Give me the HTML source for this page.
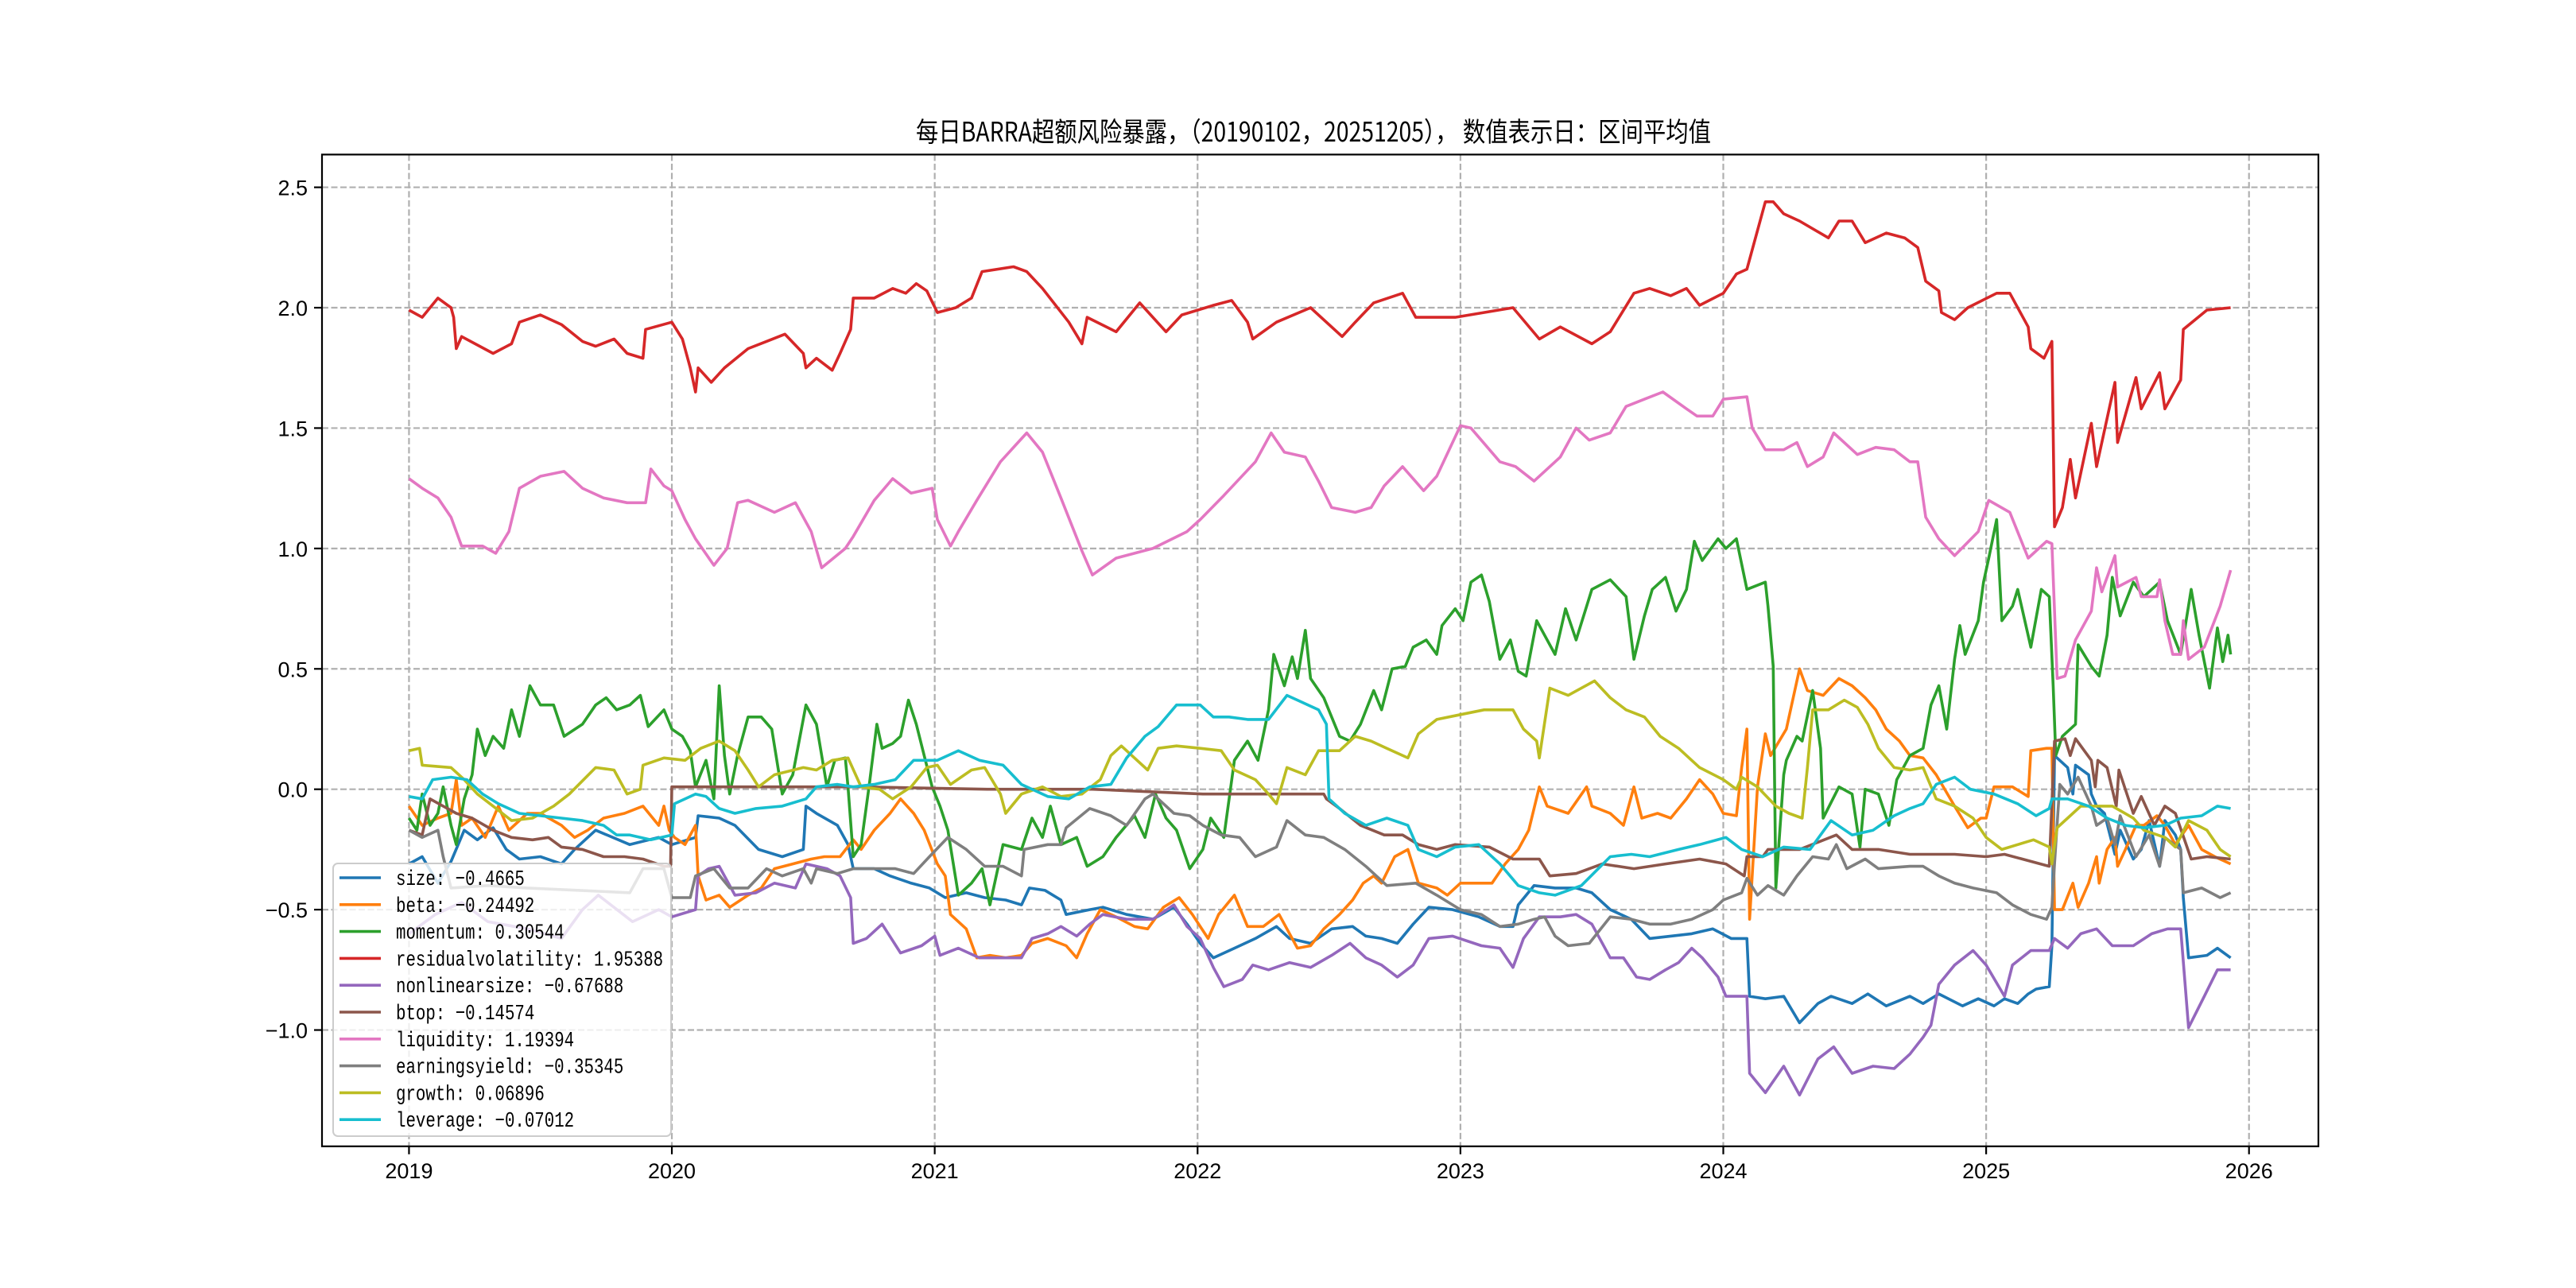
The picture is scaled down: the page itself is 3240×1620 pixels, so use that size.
<!DOCTYPE html>
<html><head><meta charset="utf-8">
<style>
html,body{margin:0;padding:0;background:#fff;}
svg{display:block;}
text{font-family:"Liberation Sans","Noto Sans CJK SC",sans-serif;fill:#000;}
</style></head>
<body>
<svg id="chart" width="3240" height="1620" viewBox="0 0 3240 1620" xmlns="http://www.w3.org/2000/svg">
<rect x="0" y="0" width="3240" height="1620" fill="#fff"/>
<text x="1152" y="178" font-size="34" textLength="1000" lengthAdjust="spacingAndGlyphs" style="font-family:'Noto Sans CJK SC','Liberation Sans',sans-serif">每日BARRA超额风险暴露，（20190102，20251205），  数值表示日：区间平均值</text>
<defs><clipPath id="plotclip"><rect x="405" y="194.4" width="2511" height="1247.4"/></clipPath></defs>
<g id="grid"></g>
<g id="series" clip-path="url(#plotclip)"></g>
<rect x="405" y="194.4" width="2511" height="1247.4" fill="none" stroke="#000" stroke-width="2.2"/>
<g id="ticks"></g>
<g id="legend"></g>
</svg>
<script>
const xTicks = [2019,2020,2021,2022,2023,2024,2025,2026];
const yTicks = [-1.0,-0.5,0.0,0.5,1.0,1.5,2.0,2.5];
const seriesNames = ["size","beta","momentum","residualvolatility","nonlinearsize","btop","liquidity","earningsyield","growth","leverage"];
const seriesMeans = ["-0.4665","-0.24492","0.30544","1.95388","-0.67688","-0.14574","1.19394","-0.35345","0.06896","-0.07012"];
const seriesColors = ["#1f77b4","#ff7f0e","#2ca02c","#d62728","#9467bd","#8c564b","#e377c2","#7f7f7f","#bcbd22","#17becf"];

const sizeData = [[2019.00,-0.31],[2019.05,-0.28],[2019.11,-0.39],[2019.16,-0.30],[2019.21,-0.17],[2019.26,-0.21],[2019.32,-0.16],[2019.37,-0.25],[2019.42,-0.29],[2019.50,-0.28],[2019.58,-0.31],[2019.63,-0.25],[2019.71,-0.17],[2019.84,-0.23],[2019.95,-0.20],[2020.00,-0.23],[2020.09,-0.20],[2020.10,-0.11],[2020.18,-0.12],[2020.24,-0.15],[2020.33,-0.25],[2020.42,-0.28],[2020.50,-0.25],[2020.51,-0.07],[2020.55,-0.10],[2020.63,-0.15],[2020.67,-0.23],[2020.69,-0.33],[2020.77,-0.33],[2020.83,-0.36],[2020.91,-0.39],[2020.98,-0.41],[2021.04,-0.45],[2021.12,-0.43],[2021.19,-0.45],[2021.27,-0.46],[2021.33,-0.48],[2021.36,-0.41],[2021.42,-0.42],[2021.48,-0.46],[2021.50,-0.52],[2021.59,-0.50],[2021.64,-0.49],[2021.73,-0.52],[2021.83,-0.54],[2021.91,-0.49],[2021.96,-0.56],[2022.01,-0.64],[2022.06,-0.70],[2022.14,-0.66],[2022.22,-0.62],[2022.30,-0.57],[2022.35,-0.62],[2022.43,-0.64],[2022.51,-0.58],[2022.59,-0.57],[2022.64,-0.61],[2022.70,-0.62],[2022.76,-0.64],[2022.82,-0.56],[2022.88,-0.49],[2022.97,-0.50],[2023.07,-0.53],[2023.15,-0.57],[2023.20,-0.57],[2023.22,-0.48],[2023.28,-0.40],[2023.36,-0.41],[2023.44,-0.41],[2023.50,-0.43],[2023.57,-0.50],[2023.65,-0.54],[2023.72,-0.62],[2023.80,-0.61],[2023.88,-0.60],[2023.96,-0.58],[2024.03,-0.62],[2024.09,-0.62],[2024.10,-0.86],[2024.16,-0.87],[2024.23,-0.86],[2024.29,-0.97],[2024.36,-0.89],[2024.41,-0.86],[2024.49,-0.89],[2024.55,-0.85],[2024.62,-0.90],[2024.71,-0.86],[2024.76,-0.89],[2024.82,-0.85],[2024.91,-0.90],[2024.97,-0.87],[2025.03,-0.90],[2025.07,-0.87],[2025.12,-0.89],[2025.16,-0.85],[2025.19,-0.83],[2025.24,-0.82],[2025.25,-0.65],[2025.26,0.14],[2025.31,0.09],[2025.33,-0.02],[2025.34,0.10],[2025.39,0.06],[2025.40,-0.02],[2025.42,-0.07],[2025.45,-0.10],[2025.49,-0.27],[2025.51,-0.17],[2025.56,-0.29],[2025.59,-0.25],[2025.62,-0.13],[2025.66,-0.32],[2025.68,-0.13],[2025.72,-0.19],[2025.74,-0.25],[2025.75,-0.45],[2025.77,-0.70],[2025.84,-0.69],[2025.88,-0.66],[2025.93,-0.70]];

const betaData = [[2019.00,-0.07],[2019.05,-0.15],[2019.11,-0.12],[2019.16,-0.10],[2019.18,0.04],[2019.20,-0.15],[2019.24,-0.12],[2019.29,-0.20],[2019.34,-0.07],[2019.38,-0.17],[2019.45,-0.10],[2019.50,-0.10],[2019.58,-0.15],[2019.63,-0.20],[2019.68,-0.17],[2019.74,-0.12],[2019.82,-0.10],[2019.89,-0.07],[2019.95,-0.15],[2019.97,-0.07],[2019.99,-0.17],[2020.01,-0.20],[2020.05,-0.23],[2020.09,-0.15],[2020.10,-0.36],[2020.13,-0.46],[2020.18,-0.44],[2020.22,-0.49],[2020.29,-0.44],[2020.34,-0.41],[2020.39,-0.33],[2020.46,-0.31],[2020.53,-0.29],[2020.58,-0.28],[2020.64,-0.28],[2020.69,-0.21],[2020.72,-0.25],[2020.77,-0.17],[2020.83,-0.10],[2020.87,-0.04],[2020.92,-0.10],[2020.96,-0.17],[2021.01,-0.31],[2021.04,-0.36],[2021.06,-0.52],[2021.12,-0.58],[2021.16,-0.70],[2021.21,-0.69],[2021.27,-0.70],[2021.33,-0.69],[2021.37,-0.64],[2021.43,-0.62],[2021.50,-0.65],[2021.54,-0.70],[2021.58,-0.60],[2021.63,-0.50],[2021.69,-0.53],[2021.76,-0.57],[2021.81,-0.58],[2021.87,-0.49],[2021.93,-0.45],[2021.98,-0.52],[2022.04,-0.62],[2022.08,-0.52],[2022.14,-0.44],[2022.19,-0.57],[2022.25,-0.57],[2022.31,-0.52],[2022.38,-0.66],[2022.43,-0.65],[2022.48,-0.58],[2022.54,-0.52],[2022.59,-0.46],[2022.63,-0.39],[2022.67,-0.36],[2022.70,-0.39],[2022.75,-0.28],[2022.80,-0.25],[2022.84,-0.39],[2022.91,-0.41],[2022.95,-0.44],[2023.00,-0.39],[2023.07,-0.39],[2023.12,-0.39],[2023.17,-0.31],[2023.22,-0.25],[2023.26,-0.17],[2023.30,0.01],[2023.33,-0.07],[2023.41,-0.10],[2023.48,0.01],[2023.50,-0.07],[2023.57,-0.10],[2023.62,-0.15],[2023.66,0.01],[2023.69,-0.12],[2023.75,-0.10],[2023.80,-0.12],[2023.86,-0.04],[2023.91,0.04],[2023.96,-0.02],[2024.00,-0.10],[2024.05,-0.11],[2024.07,0.09],[2024.09,0.25],[2024.10,-0.54],[2024.13,0.01],[2024.16,0.23],[2024.18,0.14],[2024.24,0.25],[2024.29,0.50],[2024.32,0.41],[2024.38,0.39],[2024.44,0.46],[2024.49,0.43],[2024.54,0.38],[2024.58,0.33],[2024.62,0.25],[2024.67,0.20],[2024.71,0.14],[2024.76,0.13],[2024.81,0.06],[2024.88,-0.07],[2024.93,-0.16],[2024.98,-0.12],[2025.00,-0.12],[2025.03,0.01],[2025.10,0.01],[2025.16,-0.03],[2025.17,0.16],[2025.23,0.17],[2025.25,0.17],[2025.26,-0.50],[2025.29,-0.50],[2025.33,-0.39],[2025.35,-0.49],[2025.39,-0.39],[2025.42,-0.28],[2025.43,-0.39],[2025.46,-0.25],[2025.49,-0.20],[2025.50,-0.32],[2025.53,-0.25],[2025.57,-0.15],[2025.60,-0.15],[2025.65,-0.11],[2025.68,-0.15],[2025.72,-0.23],[2025.77,-0.15],[2025.82,-0.25],[2025.87,-0.28],[2025.93,-0.31]];

const momentumData = [[2019.00,-0.12],[2019.03,-0.17],[2019.05,-0.02],[2019.08,-0.15],[2019.11,-0.10],[2019.13,0.01],[2019.16,-0.15],[2019.18,-0.23],[2019.21,-0.04],[2019.24,0.06],[2019.26,0.25],[2019.29,0.14],[2019.32,0.22],[2019.36,0.17],[2019.39,0.33],[2019.42,0.22],[2019.46,0.43],[2019.50,0.35],[2019.55,0.35],[2019.59,0.22],[2019.66,0.27],[2019.71,0.35],[2019.75,0.38],[2019.79,0.33],[2019.84,0.35],[2019.88,0.39],[2019.91,0.26],[2019.97,0.33],[2020.00,0.25],[2020.04,0.22],[2020.07,0.16],[2020.09,0.01],[2020.13,0.12],[2020.16,-0.04],[2020.18,0.43],[2020.20,0.14],[2020.22,-0.02],[2020.25,0.14],[2020.29,0.30],[2020.34,0.30],[2020.38,0.25],[2020.42,-0.02],[2020.46,0.06],[2020.51,0.35],[2020.55,0.27],[2020.59,0.01],[2020.62,0.12],[2020.66,0.13],[2020.67,0.01],[2020.69,-0.28],[2020.72,-0.23],[2020.75,0.01],[2020.78,0.27],[2020.80,0.17],[2020.84,0.19],[2020.87,0.22],[2020.90,0.37],[2020.93,0.27],[2020.96,0.14],[2020.99,0.01],[2021.02,-0.07],[2021.05,-0.17],[2021.09,-0.44],[2021.14,-0.39],[2021.18,-0.33],[2021.21,-0.48],[2021.26,-0.23],[2021.33,-0.25],[2021.37,-0.12],[2021.41,-0.20],[2021.44,-0.07],[2021.48,-0.23],[2021.54,-0.20],[2021.58,-0.32],[2021.64,-0.28],[2021.69,-0.20],[2021.76,-0.11],[2021.80,-0.20],[2021.84,-0.02],[2021.88,-0.12],[2021.92,-0.17],[2021.97,-0.33],[2022.02,-0.25],[2022.05,-0.12],[2022.10,-0.20],[2022.14,0.12],[2022.19,0.20],[2022.23,0.12],[2022.27,0.33],[2022.29,0.56],[2022.33,0.43],[2022.36,0.55],[2022.38,0.46],[2022.41,0.66],[2022.43,0.46],[2022.48,0.38],[2022.54,0.22],[2022.58,0.20],[2022.62,0.27],[2022.67,0.41],[2022.70,0.33],[2022.74,0.50],[2022.79,0.51],[2022.82,0.59],[2022.87,0.62],[2022.91,0.56],[2022.93,0.68],[2022.98,0.75],[2023.01,0.70],[2023.04,0.86],[2023.08,0.89],[2023.11,0.78],[2023.15,0.54],[2023.19,0.62],[2023.22,0.49],[2023.25,0.47],[2023.29,0.70],[2023.36,0.56],[2023.40,0.75],[2023.44,0.62],[2023.50,0.83],[2023.57,0.87],[2023.63,0.80],[2023.66,0.54],[2023.70,0.72],[2023.73,0.83],[2023.78,0.88],[2023.82,0.74],[2023.86,0.83],[2023.89,1.03],[2023.92,0.95],[2023.98,1.04],[2024.01,1.00],[2024.05,1.04],[2024.09,0.83],[2024.16,0.86],[2024.17,0.76],[2024.19,0.51],[2024.20,-0.41],[2024.23,0.06],[2024.24,0.12],[2024.28,0.22],[2024.30,0.20],[2024.34,0.41],[2024.37,0.17],[2024.38,-0.12],[2024.44,0.01],[2024.49,-0.02],[2024.52,-0.24],[2024.54,0.00],[2024.59,-0.02],[2024.63,-0.15],[2024.66,0.04],[2024.71,0.14],[2024.76,0.17],[2024.79,0.35],[2024.82,0.43],[2024.85,0.25],[2024.88,0.54],[2024.90,0.68],[2024.92,0.56],[2024.97,0.70],[2024.99,0.86],[2025.01,0.96],[2025.04,1.12],[2025.06,0.70],[2025.10,0.76],[2025.12,0.83],[2025.17,0.59],[2025.21,0.83],[2025.24,0.80],[2025.255,0.43],[2025.265,0.14],[2025.29,0.22],[2025.34,0.27],[2025.35,0.60],[2025.40,0.51],[2025.43,0.47],[2025.46,0.64],[2025.48,0.88],[2025.51,0.72],[2025.56,0.86],[2025.60,0.80],[2025.66,0.86],[2025.69,0.70],[2025.74,0.56],[2025.78,0.83],[2025.81,0.64],[2025.85,0.42],[2025.88,0.67],[2025.90,0.53],[2025.92,0.64],[2025.93,0.56]];

const residVolData = [[2019.00,1.99],[2019.05,1.96],[2019.11,2.04],[2019.16,2.00],[2019.17,1.96],[2019.18,1.83],[2019.20,1.88],[2019.32,1.81],[2019.39,1.85],[2019.42,1.94],[2019.50,1.97],[2019.58,1.93],[2019.66,1.86],[2019.71,1.84],[2019.78,1.87],[2019.83,1.81],[2019.89,1.79],[2019.90,1.91],[2020.00,1.94],[2020.04,1.87],[2020.07,1.75],[2020.09,1.65],[2020.10,1.75],[2020.15,1.69],[2020.20,1.75],[2020.29,1.83],[2020.36,1.86],[2020.43,1.89],[2020.50,1.81],[2020.51,1.75],[2020.55,1.79],[2020.61,1.74],[2020.64,1.81],[2020.68,1.91],[2020.69,2.04],[2020.77,2.04],[2020.84,2.08],[2020.89,2.06],[2020.93,2.10],[2020.97,2.07],[2021.01,1.98],[2021.08,2.00],[2021.14,2.04],[2021.18,2.15],[2021.30,2.17],[2021.35,2.15],[2021.41,2.08],[2021.51,1.94],[2021.56,1.85],[2021.58,1.96],[2021.69,1.90],[2021.78,2.02],[2021.88,1.90],[2021.94,1.97],[2022.06,2.01],[2022.13,2.03],[2022.19,1.94],[2022.21,1.87],[2022.30,1.94],[2022.43,2.00],[2022.55,1.88],[2022.60,1.94],[2022.67,2.02],[2022.78,2.06],[2022.83,1.96],[2022.98,1.96],[2023.20,2.00],[2023.30,1.87],[2023.38,1.92],[2023.50,1.85],[2023.57,1.90],[2023.66,2.06],[2023.72,2.08],[2023.80,2.05],[2023.86,2.08],[2023.91,2.01],[2024.00,2.06],[2024.05,2.14],[2024.09,2.16],[2024.16,2.44],[2024.19,2.44],[2024.23,2.39],[2024.29,2.36],[2024.40,2.29],[2024.44,2.36],[2024.49,2.36],[2024.54,2.27],[2024.62,2.31],[2024.69,2.29],[2024.74,2.25],[2024.77,2.11],[2024.82,2.07],[2024.83,1.98],[2024.88,1.95],[2024.93,2.00],[2025.04,2.06],[2025.09,2.06],[2025.12,2.00],[2025.16,1.92],[2025.17,1.83],[2025.22,1.79],[2025.25,1.86],[2025.26,1.09],[2025.29,1.17],[2025.32,1.37],[2025.34,1.21],[2025.40,1.52],[2025.42,1.34],[2025.49,1.69],[2025.50,1.44],[2025.57,1.71],[2025.59,1.58],[2025.66,1.73],[2025.68,1.58],[2025.74,1.70],[2025.75,1.91],[2025.84,1.99],[2025.93,2.00]];

const nonlinData = [[2019.00,-0.60],[2019.10,-0.52],[2019.20,-0.47],[2019.30,-0.55],[2019.45,-0.58],[2019.58,-0.62],[2019.66,-0.50],[2019.72,-0.44],[2019.85,-0.55],[2019.95,-0.50],[2020.00,-0.53],[2020.09,-0.50],[2020.10,-0.36],[2020.14,-0.33],[2020.18,-0.32],[2020.24,-0.44],[2020.32,-0.43],[2020.39,-0.39],[2020.47,-0.41],[2020.51,-0.31],[2020.59,-0.33],[2020.64,-0.36],[2020.68,-0.45],[2020.69,-0.64],[2020.74,-0.62],[2020.80,-0.56],[2020.87,-0.68],[2020.95,-0.65],[2021.00,-0.61],[2021.02,-0.69],[2021.09,-0.66],[2021.17,-0.70],[2021.25,-0.70],[2021.33,-0.70],[2021.37,-0.62],[2021.43,-0.60],[2021.48,-0.57],[2021.54,-0.61],[2021.59,-0.56],[2021.64,-0.52],[2021.73,-0.54],[2021.83,-0.54],[2021.91,-0.48],[2021.96,-0.57],[2022.01,-0.62],[2022.06,-0.74],[2022.10,-0.82],[2022.17,-0.79],[2022.21,-0.73],[2022.27,-0.75],[2022.35,-0.72],[2022.43,-0.74],[2022.51,-0.69],[2022.58,-0.64],[2022.64,-0.70],[2022.70,-0.73],[2022.76,-0.78],[2022.82,-0.73],[2022.88,-0.62],[2022.97,-0.61],[2023.08,-0.65],[2023.15,-0.66],[2023.20,-0.74],[2023.24,-0.62],[2023.30,-0.53],[2023.38,-0.53],[2023.44,-0.52],[2023.50,-0.56],[2023.57,-0.70],[2023.62,-0.70],[2023.67,-0.78],[2023.72,-0.79],[2023.78,-0.75],[2023.83,-0.72],[2023.88,-0.66],[2023.92,-0.70],[2023.98,-0.78],[2024.01,-0.86],[2024.09,-0.86],[2024.10,-1.18],[2024.16,-1.26],[2024.23,-1.15],[2024.29,-1.27],[2024.36,-1.12],[2024.42,-1.07],[2024.49,-1.18],[2024.57,-1.15],[2024.65,-1.16],[2024.71,-1.10],[2024.76,-1.03],[2024.79,-0.98],[2024.82,-0.81],[2024.88,-0.73],[2024.95,-0.67],[2025.00,-0.73],[2025.07,-0.86],[2025.10,-0.73],[2025.17,-0.67],[2025.24,-0.67],[2025.26,-0.62],[2025.31,-0.66],[2025.36,-0.60],[2025.42,-0.58],[2025.48,-0.65],[2025.56,-0.65],[2025.63,-0.60],[2025.69,-0.58],[2025.74,-0.58],[2025.77,-0.99],[2025.83,-0.86],[2025.88,-0.75],[2025.93,-0.75]];

const btopData = [[2019.00,-0.17],[2019.05,-0.19],[2019.08,-0.04],[2019.13,-0.07],[2019.18,-0.10],[2019.24,-0.12],[2019.32,-0.17],[2019.39,-0.20],[2019.47,-0.21],[2019.53,-0.20],[2019.58,-0.24],[2019.66,-0.25],[2019.74,-0.28],[2019.82,-0.28],[2019.89,-0.29],[2019.97,-0.32],[2019.995,-0.32],[2020.00,0.01],[2020.11,0.01],[2020.72,0.01],[2021.20,0.00],[2021.60,0.00],[2022.02,-0.02],[2022.48,-0.02],[2022.49,-0.04],[2022.54,-0.08],[2022.62,-0.15],[2022.71,-0.19],[2022.78,-0.19],[2022.84,-0.23],[2022.91,-0.25],[2022.98,-0.23],[2023.11,-0.24],[2023.20,-0.29],[2023.30,-0.29],[2023.34,-0.36],[2023.44,-0.35],[2023.54,-0.31],[2023.66,-0.33],[2023.78,-0.31],[2023.91,-0.29],[2024.01,-0.31],[2024.08,-0.36],[2024.09,-0.28],[2024.15,-0.28],[2024.17,-0.25],[2024.29,-0.25],[2024.43,-0.19],[2024.49,-0.25],[2024.59,-0.25],[2024.71,-0.27],[2024.88,-0.27],[2025.00,-0.28],[2025.07,-0.27],[2025.24,-0.32],[2025.26,0.20],[2025.30,0.21],[2025.32,0.14],[2025.34,0.21],[2025.40,0.12],[2025.415,0.01],[2025.425,0.12],[2025.46,0.09],[2025.495,-0.07],[2025.505,0.08],[2025.56,-0.10],[2025.59,-0.03],[2025.64,-0.15],[2025.68,-0.07],[2025.72,-0.10],[2025.78,-0.29],[2025.84,-0.28],[2025.93,-0.29]];

const liquidityData = [[2019.00,1.29],[2019.05,1.25],[2019.11,1.21],[2019.16,1.13],[2019.20,1.01],[2019.28,1.01],[2019.33,0.98],[2019.38,1.07],[2019.42,1.25],[2019.50,1.30],[2019.59,1.32],[2019.66,1.25],[2019.74,1.21],[2019.83,1.19],[2019.90,1.19],[2019.92,1.33],[2019.97,1.26],[2020.00,1.24],[2020.05,1.12],[2020.09,1.04],[2020.16,0.93],[2020.21,1.00],[2020.25,1.19],[2020.29,1.20],[2020.39,1.15],[2020.47,1.19],[2020.53,1.07],[2020.57,0.92],[2020.66,1.00],[2020.69,1.05],[2020.77,1.20],[2020.84,1.29],[2020.91,1.23],[2020.99,1.25],[2021.01,1.12],[2021.06,1.01],[2021.09,1.07],[2021.16,1.20],[2021.25,1.36],[2021.35,1.48],[2021.41,1.40],[2021.48,1.21],[2021.56,0.99],[2021.60,0.89],[2021.69,0.96],[2021.83,1.00],[2021.96,1.07],[2022.01,1.12],[2022.10,1.22],[2022.22,1.36],[2022.28,1.48],[2022.33,1.40],[2022.41,1.38],[2022.46,1.28],[2022.51,1.17],[2022.60,1.15],[2022.66,1.17],[2022.71,1.26],[2022.78,1.34],[2022.86,1.24],[2022.91,1.30],[2023.00,1.51],[2023.04,1.50],[2023.15,1.36],[2023.21,1.34],[2023.28,1.28],[2023.38,1.38],[2023.44,1.50],[2023.49,1.45],[2023.57,1.48],[2023.63,1.59],[2023.70,1.62],[2023.77,1.65],[2023.86,1.58],[2023.90,1.55],[2023.96,1.55],[2024.00,1.62],[2024.09,1.63],[2024.11,1.50],[2024.16,1.41],[2024.23,1.41],[2024.28,1.44],[2024.32,1.34],[2024.38,1.38],[2024.42,1.48],[2024.51,1.39],[2024.58,1.42],[2024.65,1.41],[2024.71,1.36],[2024.74,1.36],[2024.77,1.13],[2024.82,1.04],[2024.88,0.97],[2024.97,1.07],[2025.01,1.20],[2025.09,1.15],[2025.16,0.96],[2025.23,1.03],[2025.25,1.02],[2025.27,0.46],[2025.30,0.47],[2025.34,0.62],[2025.40,0.74],[2025.42,0.92],[2025.44,0.82],[2025.49,0.97],[2025.50,0.84],[2025.57,0.88],[2025.59,0.80],[2025.65,0.80],[2025.66,0.87],[2025.68,0.70],[2025.71,0.56],[2025.74,0.56],[2025.75,0.70],[2025.77,0.54],[2025.83,0.59],[2025.89,0.76],[2025.93,0.91]];

const earningsData = [[2019.00,-0.17],[2019.05,-0.20],[2019.11,-0.17],[2019.13,-0.28],[2019.16,-0.41],[2019.30,-0.40],[2019.45,-0.41],[2019.65,-0.42],[2019.84,-0.43],[2019.89,-0.33],[2019.97,-0.33],[2020.00,-0.45],[2020.07,-0.45],[2020.09,-0.36],[2020.16,-0.33],[2020.22,-0.41],[2020.29,-0.41],[2020.36,-0.33],[2020.42,-0.36],[2020.50,-0.33],[2020.53,-0.39],[2020.55,-0.33],[2020.63,-0.35],[2020.69,-0.33],[2020.77,-0.33],[2020.85,-0.33],[2020.92,-0.35],[2020.98,-0.28],[2021.05,-0.20],[2021.12,-0.25],[2021.19,-0.32],[2021.26,-0.32],[2021.33,-0.36],[2021.34,-0.25],[2021.43,-0.23],[2021.48,-0.23],[2021.50,-0.16],[2021.59,-0.08],[2021.67,-0.11],[2021.73,-0.15],[2021.80,-0.04],[2021.83,-0.02],[2021.91,-0.10],[2021.97,-0.11],[2022.02,-0.15],[2022.09,-0.19],[2022.16,-0.20],[2022.22,-0.28],[2022.30,-0.24],[2022.34,-0.13],[2022.41,-0.19],[2022.48,-0.20],[2022.56,-0.25],[2022.64,-0.32],[2022.72,-0.40],[2022.83,-0.39],[2022.91,-0.44],[2023.00,-0.50],[2023.08,-0.52],[2023.15,-0.57],[2023.22,-0.56],[2023.28,-0.54],[2023.32,-0.53],[2023.36,-0.61],[2023.41,-0.65],[2023.49,-0.64],[2023.57,-0.53],[2023.65,-0.54],[2023.72,-0.56],[2023.80,-0.56],[2023.88,-0.54],[2023.96,-0.50],[2024.00,-0.46],[2024.07,-0.43],[2024.09,-0.37],[2024.13,-0.44],[2024.17,-0.40],[2024.23,-0.44],[2024.28,-0.36],[2024.34,-0.28],[2024.40,-0.29],[2024.43,-0.23],[2024.47,-0.33],[2024.54,-0.29],[2024.59,-0.33],[2024.71,-0.32],[2024.76,-0.32],[2024.82,-0.36],[2024.88,-0.39],[2024.95,-0.41],[2025.04,-0.43],[2025.10,-0.48],[2025.17,-0.52],[2025.23,-0.54],[2025.25,-0.49],[2025.26,-0.31],[2025.28,0.02],[2025.31,-0.02],[2025.35,0.05],[2025.40,-0.07],[2025.42,-0.15],[2025.46,-0.12],[2025.49,-0.23],[2025.51,-0.11],[2025.57,-0.28],[2025.62,-0.19],[2025.66,-0.32],[2025.68,-0.20],[2025.74,-0.25],[2025.75,-0.43],[2025.82,-0.41],[2025.89,-0.45],[2025.93,-0.43]];

const growthData = [[2019.00,0.16],[2019.04,0.17],[2019.05,0.10],[2019.16,0.09],[2019.21,0.04],[2019.26,-0.02],[2019.32,-0.07],[2019.39,-0.13],[2019.47,-0.12],[2019.55,-0.07],[2019.61,-0.02],[2019.71,0.09],[2019.78,0.08],[2019.83,-0.02],[2019.88,0.00],[2019.89,0.10],[2019.97,0.13],[2020.05,0.12],[2020.11,0.17],[2020.18,0.20],[2020.24,0.16],[2020.29,0.08],[2020.33,0.01],[2020.39,0.06],[2020.50,0.09],[2020.55,0.08],[2020.61,0.12],[2020.67,0.13],[2020.72,0.01],[2020.79,0.00],[2020.84,-0.04],[2020.91,0.01],[2020.97,0.09],[2021.01,0.10],[2021.06,0.02],[2021.14,0.08],[2021.19,0.09],[2021.25,-0.02],[2021.27,-0.10],[2021.33,-0.02],[2021.41,0.01],[2021.48,-0.03],[2021.56,-0.02],[2021.63,0.04],[2021.67,0.14],[2021.71,0.18],[2021.76,0.13],[2021.81,0.08],[2021.85,0.17],[2021.92,0.18],[2022.01,0.17],[2022.09,0.16],[2022.14,0.08],[2022.22,0.04],[2022.27,-0.02],[2022.30,-0.06],[2022.34,0.09],[2022.41,0.06],[2022.46,0.16],[2022.54,0.16],[2022.60,0.22],[2022.66,0.20],[2022.72,0.17],[2022.80,0.13],[2022.84,0.23],[2022.91,0.29],[2023.00,0.31],[2023.09,0.33],[2023.20,0.33],[2023.24,0.25],[2023.29,0.20],[2023.30,0.13],[2023.34,0.42],[2023.41,0.39],[2023.51,0.45],[2023.57,0.38],[2023.63,0.33],[2023.70,0.30],[2023.76,0.22],[2023.83,0.17],[2023.91,0.09],[2024.00,0.04],[2024.05,0.00],[2024.07,0.05],[2024.13,0.01],[2024.20,-0.07],[2024.25,-0.10],[2024.30,-0.12],[2024.32,0.09],[2024.34,0.33],[2024.40,0.33],[2024.46,0.37],[2024.51,0.34],[2024.55,0.27],[2024.59,0.17],[2024.65,0.09],[2024.71,0.08],[2024.76,0.09],[2024.81,-0.04],[2024.88,-0.07],[2024.95,-0.12],[2025.00,-0.20],[2025.06,-0.25],[2025.12,-0.23],[2025.18,-0.21],[2025.24,-0.24],[2025.25,-0.31],[2025.27,-0.16],[2025.31,-0.12],[2025.36,-0.07],[2025.44,-0.07],[2025.48,-0.07],[2025.56,-0.12],[2025.60,-0.17],[2025.68,-0.20],[2025.72,-0.24],[2025.77,-0.13],[2025.84,-0.17],[2025.89,-0.25],[2025.93,-0.28]];

const leverageData = [[2019.00,-0.03],[2019.05,-0.04],[2019.09,0.04],[2019.16,0.05],[2019.22,0.04],[2019.28,-0.02],[2019.34,-0.06],[2019.42,-0.10],[2019.50,-0.11],[2019.58,-0.12],[2019.66,-0.13],[2019.74,-0.15],[2019.79,-0.19],[2019.84,-0.19],[2019.92,-0.21],[2020.00,-0.19],[2020.01,-0.06],[2020.09,-0.02],[2020.13,-0.03],[2020.18,-0.08],[2020.24,-0.10],[2020.32,-0.08],[2020.42,-0.07],[2020.51,-0.04],[2020.55,0.01],[2020.63,0.02],[2020.69,0.01],[2020.77,0.02],[2020.85,0.04],[2020.92,0.12],[2021.01,0.12],[2021.09,0.16],[2021.17,0.12],[2021.26,0.10],[2021.33,0.02],[2021.43,-0.03],[2021.51,-0.04],[2021.59,0.01],[2021.67,0.02],[2021.73,0.13],[2021.80,0.22],[2021.85,0.26],[2021.92,0.35],[2022.01,0.35],[2022.06,0.30],[2022.12,0.30],[2022.19,0.29],[2022.27,0.29],[2022.34,0.39],[2022.38,0.37],[2022.46,0.33],[2022.49,0.27],[2022.50,-0.04],[2022.56,-0.10],[2022.64,-0.15],[2022.72,-0.12],[2022.80,-0.15],[2022.84,-0.25],[2022.91,-0.28],[2022.98,-0.24],[2023.07,-0.23],[2023.15,-0.31],[2023.22,-0.40],[2023.30,-0.43],[2023.36,-0.44],[2023.46,-0.40],[2023.57,-0.28],[2023.65,-0.27],[2023.72,-0.28],[2023.83,-0.25],[2023.91,-0.23],[2024.01,-0.20],[2024.07,-0.25],[2024.15,-0.28],[2024.23,-0.24],[2024.33,-0.25],[2024.41,-0.13],[2024.49,-0.19],[2024.57,-0.17],[2024.65,-0.11],[2024.71,-0.08],[2024.76,-0.06],[2024.81,0.02],[2024.88,0.05],[2024.94,0.00],[2025.03,-0.02],[2025.12,-0.06],[2025.19,-0.11],[2025.24,-0.08],[2025.25,-0.04],[2025.31,-0.04],[2025.39,-0.07],[2025.46,-0.12],[2025.53,-0.15],[2025.60,-0.16],[2025.68,-0.15],[2025.74,-0.12],[2025.82,-0.11],[2025.88,-0.07],[2025.93,-0.08]];

const allSeries = [sizeData,betaData,momentumData,residVolData,nonlinData,btopData,liquidityData,earningsData,growthData,leverageData];

const NS = "http://www.w3.org/2000/svg";
const AX = {left:405, right:2916, top:194.4, bottom:1441.8};
const X0 = 2018.669, X1 = 2026.264, Y0 = -1.483, Y1 = 2.636;
function xScale(t){ return AX.left + (t - X0) / (X1 - X0) * (AX.right - AX.left); }
function yScale(v){ return AX.bottom - (v - Y0) / (Y1 - Y0) * (AX.bottom - AX.top); }
function mk(tag, attrs, parent){
  const e = document.createElementNS(NS, tag);
  for (const k in attrs) e.setAttribute(k, attrs[k]);
  parent.appendChild(e);
  return e;
}
const gGrid = document.getElementById('grid');
const gTicks = document.getElementById('ticks');
const gSeries = document.getElementById('series');
const gLegend = document.getElementById('legend');

xTicks.forEach(function(t){
  const x = xScale(t);
  const gl = mk('line',{x1:x,x2:x,y1:AX.top,y2:AX.bottom,stroke:'#b0b0b0','stroke-width':2.2,'stroke-dasharray':'8,3.5'},gGrid);
  
  
  const tk = mk('line',{x1:x,x2:x,y1:AX.bottom,y2:AX.bottom+10,stroke:'#000','stroke-width':2.2},gTicks);
  
  
  const lb = mk('text',{x:x,y:AX.bottom+40,'font-size':27,'text-anchor':'middle'},gTicks);
  lb.textContent = String(t);
  
  
});
yTicks.forEach(function(v){
  const y = yScale(v);
  const gl = mk('line',{x1:AX.left,x2:AX.right,y1:y,y2:y,stroke:'#b0b0b0','stroke-width':2.2,'stroke-dasharray':'8,3.5'},gGrid);
  
  
  const tk = mk('line',{x1:AX.left-10,x2:AX.left,y1:y,y2:y,stroke:'#000','stroke-width':2.2},gTicks);
  
  
  const lb = mk('text',{x:AX.left-18,y:y+10,'font-size':27,'text-anchor':'end'},gTicks);
  lb.textContent = (v<0?'\u2212':'') + Math.abs(v).toFixed(1);
  
  
});

allSeries.forEach(function(data, i){
  const d = data.map(function(p, j){ return (j?'L':'M') + xScale(p[0]).toFixed(1) + ',' + yScale(p[1]).toFixed(1); }).join('');
  const path = mk('path',{d:d,fill:'none',stroke:seriesColors[i],'stroke-width':3.6,'stroke-linejoin':'round'},gSeries);
  
  
});

const box = mk('rect',{x:419,y:1086,width:425,height:343,rx:6,fill:'#fff','fill-opacity':0.8,stroke:'#cccccc','stroke-width':2},gLegend);


seriesNames.forEach(function(n, i){
  const y = 1104 + i*33.8;
  const ln = mk('line',{x1:427,x2:479,y1:y,y2:y,stroke:seriesColors[i],'stroke-width':3.6},gLegend);
  
  
  const label = n + ': ' + seriesMeans[i].replace('-','\u2212');
  const tx = mk('text',{x:498,y:y+9,'font-size':27,textLength:(label.length*12.45).toFixed(1),lengthAdjust:'spacingAndGlyphs',style:'font-family:"Liberation Mono",monospace'},gLegend);
  tx.textContent = label;
  
  
});
</script>
</body></html>
